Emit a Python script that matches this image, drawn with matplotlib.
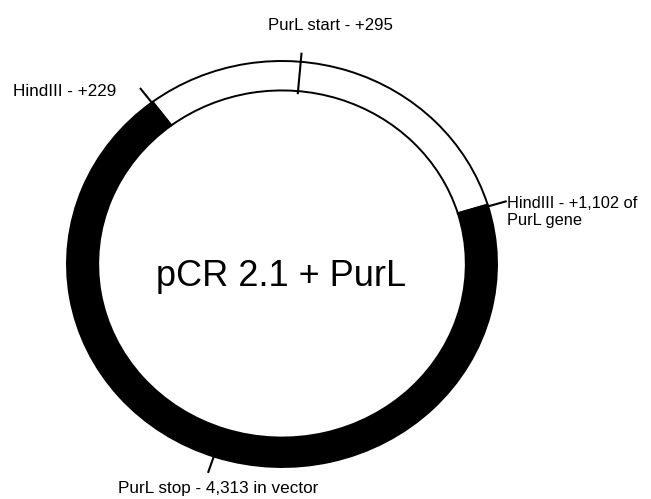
import matplotlib
matplotlib.use("Agg")
import matplotlib.pyplot as plt
from matplotlib.patches import Wedge
import numpy as np

# ---- data ----
title = "pCR 2.1 + PurL"
# segments of the plasmid ring: (start angle, end angle, colour) in degrees, counter-clockwise
segment_starts = [17, 127]
segment_ends = [127, 377]
segment_colors = ["white", "black"]

feature_labels = ["HindIII - +229", "PurL start - +295",
                  "HindIII - +1,102 of\nPurL gene", "PurL stop - 4,313 in vector"]
feature_angles = [127.3, 85.0, 16.5, 251.5]
tick_inner = [1.0, 0.84, 1.0, 1.0]
tick_outer = [1.09, 1.045, 1.09, 1.085]

# ---- figure ----
W, H = 651, 499
fig = plt.figure(figsize=(W / 100, H / 100), dpi=100)
ax = fig.add_axes([0, 0, 1, 1])
cx, cy, rx, ry = 282, 264, 215, 203
ax.set_xlim(-cx / rx, (W - cx) / rx)
ax.set_ylim(-(H - cy) / ry, cy / ry)
ax.axis("off")

r_in = 0.855
width = 1.0 - r_in
for s, e, c in zip(segment_starts, segment_ends, segment_colors):
    ax.add_patch(Wedge((0, 0), 1.0, s, e, width=width, facecolor=c,
                       edgecolor="black", linewidth=1.4, zorder=2))

for a, r0, r1 in zip(feature_angles, tick_inner, tick_outer):
    t = np.deg2rad(a)
    ax.plot([r0 * np.cos(t), r1 * np.cos(t)], [r0 * np.sin(t), r1 * np.sin(t)],
            color="black", lw=1.5, zorder=3, solid_capstyle="butt")

fam = ["Liberation Sans", "DejaVu Sans"]
def px(x, y):
    return (x - cx) / rx, (cy - y) / ry

label_pos = [px(13, 91), px(330, 25), px(507, 212), px(218, 488)]
label_ha = ["left", "center", "left", "center"]
label_size = [12.3, 12.1, 11.8, 12.3]
for lab, (x, y), ha, fs in zip(feature_labels, label_pos, label_ha, label_size):
    ax.text(x, y, lab, ha=ha, va="center", fontsize=fs, family=fam,
            linespacing=1.15, color="black")

x, y = px(281, 276)
ax.text(x, y, title, ha="center", va="center", fontsize=26,
        family=fam, color="black")

fig.savefig("out.png", dpi=100, facecolor="white")
